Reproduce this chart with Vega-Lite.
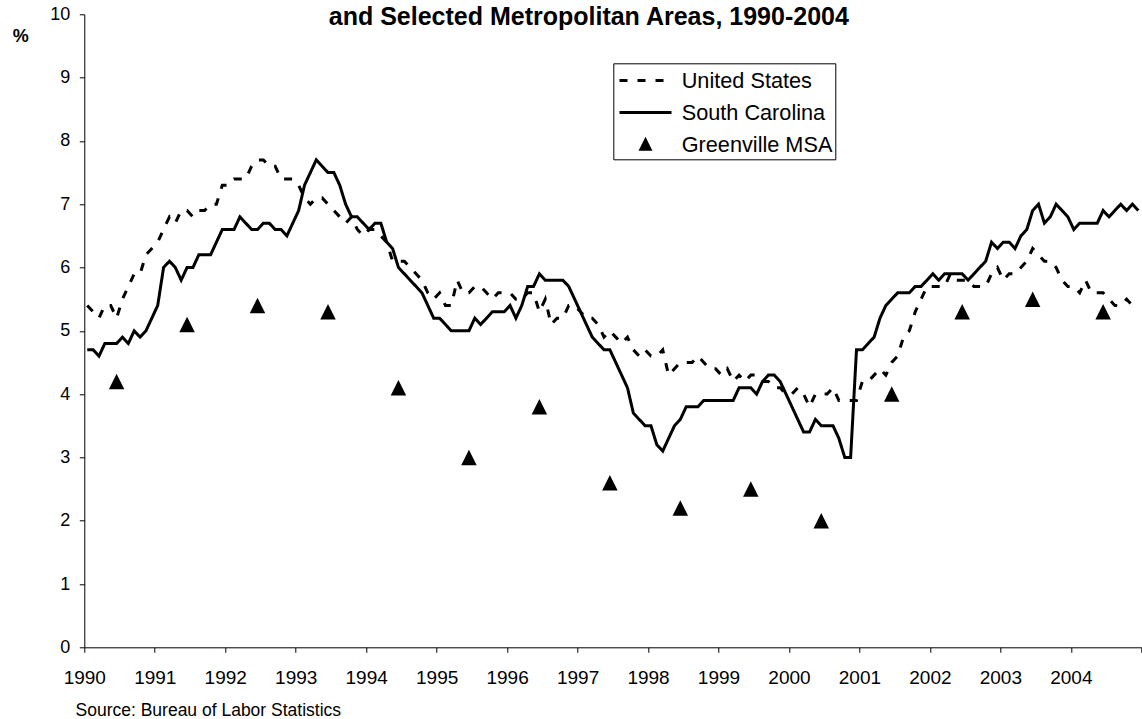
{
"$schema":"https://vega.github.io/schema/vega-lite/v6.json",
"width":1057,"height":633,
"autosize":{"type":"none"},
"padding":{"left":84.3,"top":14.3,"right":0.7,"bottom":71.7},
"background":"white",
"title":{"text":"and Selected Metropolitan Areas, 1990-2004","font":"Liberation Sans","fontSize":25,"fontWeight":"bold","color":"black","anchor":"middle","dx":-24,"baseline":"alphabetic","offset":-45},
"config":{"view":{"stroke":null},"font":"Liberation Sans"},
"data":{"values":[
{"s":"United States","x":1990.0417,"y":5.4},{"s":"United States","x":1990.125,"y":5.3},{"s":"United States","x":1990.2083,"y":5.2},{"s":"United States","x":1990.2917,"y":5.4},{"s":"United States","x":1990.375,"y":5.4},{"s":"United States","x":1990.4583,"y":5.2},{"s":"United States","x":1990.5417,"y":5.5},{"s":"United States","x":1990.625,"y":5.7},{"s":"United States","x":1990.7083,"y":5.9},{"s":"United States","x":1990.7917,"y":5.9},{"s":"United States","x":1990.875,"y":6.2},{"s":"United States","x":1990.9583,"y":6.3},
{"s":"United States","x":1991.0417,"y":6.4},{"s":"United States","x":1991.125,"y":6.6},{"s":"United States","x":1991.2083,"y":6.8},{"s":"United States","x":1991.2917,"y":6.7},{"s":"United States","x":1991.375,"y":6.9},{"s":"United States","x":1991.4583,"y":6.9},{"s":"United States","x":1991.5417,"y":6.8},{"s":"United States","x":1991.625,"y":6.9},{"s":"United States","x":1991.7083,"y":6.9},{"s":"United States","x":1991.7917,"y":7.0},{"s":"United States","x":1991.875,"y":7.0},{"s":"United States","x":1991.9583,"y":7.3},
{"s":"United States","x":1992.0417,"y":7.3},{"s":"United States","x":1992.125,"y":7.4},{"s":"United States","x":1992.2083,"y":7.4},{"s":"United States","x":1992.2917,"y":7.4},{"s":"United States","x":1992.375,"y":7.6},{"s":"United States","x":1992.4583,"y":7.7},{"s":"United States","x":1992.5417,"y":7.7},{"s":"United States","x":1992.625,"y":7.6},{"s":"United States","x":1992.7083,"y":7.6},{"s":"United States","x":1992.7917,"y":7.4},{"s":"United States","x":1992.875,"y":7.4},{"s":"United States","x":1992.9583,"y":7.4},
{"s":"United States","x":1993.0417,"y":7.3},{"s":"United States","x":1993.125,"y":7.1},{"s":"United States","x":1993.2083,"y":7.0},{"s":"United States","x":1993.2917,"y":7.1},{"s":"United States","x":1993.375,"y":7.1},{"s":"United States","x":1993.4583,"y":7.0},{"s":"United States","x":1993.5417,"y":6.9},{"s":"United States","x":1993.625,"y":6.8},{"s":"United States","x":1993.7083,"y":6.7},{"s":"United States","x":1993.7917,"y":6.8},{"s":"United States","x":1993.875,"y":6.6},{"s":"United States","x":1993.9583,"y":6.5},
{"s":"United States","x":1994.0417,"y":6.6},{"s":"United States","x":1994.125,"y":6.6},{"s":"United States","x":1994.2083,"y":6.5},{"s":"United States","x":1994.2917,"y":6.4},{"s":"United States","x":1994.375,"y":6.1},{"s":"United States","x":1994.4583,"y":6.1},{"s":"United States","x":1994.5417,"y":6.1},{"s":"United States","x":1994.625,"y":6.0},{"s":"United States","x":1994.7083,"y":5.9},{"s":"United States","x":1994.7917,"y":5.8},{"s":"United States","x":1994.875,"y":5.6},{"s":"United States","x":1994.9583,"y":5.5},
{"s":"United States","x":1995.0417,"y":5.6},{"s":"United States","x":1995.125,"y":5.4},{"s":"United States","x":1995.2083,"y":5.4},{"s":"United States","x":1995.2917,"y":5.8},{"s":"United States","x":1995.375,"y":5.6},{"s":"United States","x":1995.4583,"y":5.6},{"s":"United States","x":1995.5417,"y":5.7},{"s":"United States","x":1995.625,"y":5.7},{"s":"United States","x":1995.7083,"y":5.6},{"s":"United States","x":1995.7917,"y":5.5},{"s":"United States","x":1995.875,"y":5.6},{"s":"United States","x":1995.9583,"y":5.6},
{"s":"United States","x":1996.0417,"y":5.6},{"s":"United States","x":1996.125,"y":5.5},{"s":"United States","x":1996.2083,"y":5.5},{"s":"United States","x":1996.2917,"y":5.6},{"s":"United States","x":1996.375,"y":5.6},{"s":"United States","x":1996.4583,"y":5.3},{"s":"United States","x":1996.5417,"y":5.5},{"s":"United States","x":1996.625,"y":5.1},{"s":"United States","x":1996.7083,"y":5.2},{"s":"United States","x":1996.7917,"y":5.2},{"s":"United States","x":1996.875,"y":5.4},{"s":"United States","x":1996.9583,"y":5.4},
{"s":"United States","x":1997.0417,"y":5.3},{"s":"United States","x":1997.125,"y":5.2},{"s":"United States","x":1997.2083,"y":5.2},{"s":"United States","x":1997.2917,"y":5.1},{"s":"United States","x":1997.375,"y":4.9},{"s":"United States","x":1997.4583,"y":5.0},{"s":"United States","x":1997.5417,"y":4.9},{"s":"United States","x":1997.625,"y":4.8},{"s":"United States","x":1997.7083,"y":4.9},{"s":"United States","x":1997.7917,"y":4.7},{"s":"United States","x":1997.875,"y":4.6},{"s":"United States","x":1997.9583,"y":4.7},
{"s":"United States","x":1998.0417,"y":4.6},{"s":"United States","x":1998.125,"y":4.6},{"s":"United States","x":1998.2083,"y":4.7},{"s":"United States","x":1998.2917,"y":4.3},{"s":"United States","x":1998.375,"y":4.4},{"s":"United States","x":1998.4583,"y":4.5},{"s":"United States","x":1998.5417,"y":4.5},{"s":"United States","x":1998.625,"y":4.5},{"s":"United States","x":1998.7083,"y":4.6},{"s":"United States","x":1998.7917,"y":4.5},{"s":"United States","x":1998.875,"y":4.4},{"s":"United States","x":1998.9583,"y":4.4},
{"s":"United States","x":1999.0417,"y":4.3},{"s":"United States","x":1999.125,"y":4.4},{"s":"United States","x":1999.2083,"y":4.2},{"s":"United States","x":1999.2917,"y":4.3},{"s":"United States","x":1999.375,"y":4.2},{"s":"United States","x":1999.4583,"y":4.3},{"s":"United States","x":1999.5417,"y":4.3},{"s":"United States","x":1999.625,"y":4.2},{"s":"United States","x":1999.7083,"y":4.2},{"s":"United States","x":1999.7917,"y":4.1},{"s":"United States","x":1999.875,"y":4.1},{"s":"United States","x":1999.9583,"y":4.0},
{"s":"United States","x":2000.0417,"y":4.0},{"s":"United States","x":2000.125,"y":4.1},{"s":"United States","x":2000.2083,"y":4.0},{"s":"United States","x":2000.2917,"y":3.8},{"s":"United States","x":2000.375,"y":4.0},{"s":"United States","x":2000.4583,"y":4.0},{"s":"United States","x":2000.5417,"y":4.0},{"s":"United States","x":2000.625,"y":4.1},{"s":"United States","x":2000.7083,"y":3.9},{"s":"United States","x":2000.7917,"y":3.9},{"s":"United States","x":2000.875,"y":3.9},{"s":"United States","x":2000.9583,"y":3.9},
{"s":"United States","x":2001.0417,"y":4.2},{"s":"United States","x":2001.125,"y":4.2},{"s":"United States","x":2001.2083,"y":4.3},{"s":"United States","x":2001.2917,"y":4.4},{"s":"United States","x":2001.375,"y":4.3},{"s":"United States","x":2001.4583,"y":4.5},{"s":"United States","x":2001.5417,"y":4.6},{"s":"United States","x":2001.625,"y":4.9},{"s":"United States","x":2001.7083,"y":5.0},{"s":"United States","x":2001.7917,"y":5.3},{"s":"United States","x":2001.875,"y":5.5},{"s":"United States","x":2001.9583,"y":5.7},
{"s":"United States","x":2002.0417,"y":5.7},{"s":"United States","x":2002.125,"y":5.7},{"s":"United States","x":2002.2083,"y":5.7},{"s":"United States","x":2002.2917,"y":5.9},{"s":"United States","x":2002.375,"y":5.8},{"s":"United States","x":2002.4583,"y":5.8},{"s":"United States","x":2002.5417,"y":5.8},{"s":"United States","x":2002.625,"y":5.7},{"s":"United States","x":2002.7083,"y":5.7},{"s":"United States","x":2002.7917,"y":5.7},{"s":"United States","x":2002.875,"y":5.9},{"s":"United States","x":2002.9583,"y":6.0},
{"s":"United States","x":2003.0417,"y":5.8},{"s":"United States","x":2003.125,"y":5.9},{"s":"United States","x":2003.2083,"y":5.9},{"s":"United States","x":2003.2917,"y":6.0},{"s":"United States","x":2003.375,"y":6.1},{"s":"United States","x":2003.4583,"y":6.3},{"s":"United States","x":2003.5417,"y":6.2},{"s":"United States","x":2003.625,"y":6.1},{"s":"United States","x":2003.7083,"y":6.1},{"s":"United States","x":2003.7917,"y":6.0},{"s":"United States","x":2003.875,"y":5.8},{"s":"United States","x":2003.9583,"y":5.7},
{"s":"United States","x":2004.0417,"y":5.7},{"s":"United States","x":2004.125,"y":5.6},{"s":"United States","x":2004.2083,"y":5.8},{"s":"United States","x":2004.2917,"y":5.6},{"s":"United States","x":2004.375,"y":5.6},{"s":"United States","x":2004.4583,"y":5.6},{"s":"United States","x":2004.5417,"y":5.5},{"s":"United States","x":2004.625,"y":5.4},{"s":"United States","x":2004.7083,"y":5.4},{"s":"United States","x":2004.7917,"y":5.5},{"s":"United States","x":2004.875,"y":5.4},{"s":"United States","x":2004.9583,"y":5.4},
{"s":"South Carolina","x":1990.0417,"y":4.7},{"s":"South Carolina","x":1990.125,"y":4.7},{"s":"South Carolina","x":1990.2083,"y":4.6},{"s":"South Carolina","x":1990.2917,"y":4.8},{"s":"South Carolina","x":1990.375,"y":4.8},{"s":"South Carolina","x":1990.4583,"y":4.8},{"s":"South Carolina","x":1990.5417,"y":4.9},{"s":"South Carolina","x":1990.625,"y":4.8},{"s":"South Carolina","x":1990.7083,"y":5.0},{"s":"South Carolina","x":1990.7917,"y":4.9},{"s":"South Carolina","x":1990.875,"y":5.0},{"s":"South Carolina","x":1990.9583,"y":5.2},
{"s":"South Carolina","x":1991.0417,"y":5.4},{"s":"South Carolina","x":1991.125,"y":6.0},{"s":"South Carolina","x":1991.2083,"y":6.1},{"s":"South Carolina","x":1991.2917,"y":6.0},{"s":"South Carolina","x":1991.375,"y":5.8},{"s":"South Carolina","x":1991.4583,"y":6.0},{"s":"South Carolina","x":1991.5417,"y":6.0},{"s":"South Carolina","x":1991.625,"y":6.2},{"s":"South Carolina","x":1991.7083,"y":6.2},{"s":"South Carolina","x":1991.7917,"y":6.2},{"s":"South Carolina","x":1991.875,"y":6.4},{"s":"South Carolina","x":1991.9583,"y":6.6},
{"s":"South Carolina","x":1992.0417,"y":6.6},{"s":"South Carolina","x":1992.125,"y":6.6},{"s":"South Carolina","x":1992.2083,"y":6.8},{"s":"South Carolina","x":1992.2917,"y":6.7},{"s":"South Carolina","x":1992.375,"y":6.6},{"s":"South Carolina","x":1992.4583,"y":6.6},{"s":"South Carolina","x":1992.5417,"y":6.7},{"s":"South Carolina","x":1992.625,"y":6.7},{"s":"South Carolina","x":1992.7083,"y":6.6},{"s":"South Carolina","x":1992.7917,"y":6.6},{"s":"South Carolina","x":1992.875,"y":6.5},{"s":"South Carolina","x":1992.9583,"y":6.7},
{"s":"South Carolina","x":1993.0417,"y":6.9},{"s":"South Carolina","x":1993.125,"y":7.3},{"s":"South Carolina","x":1993.2083,"y":7.5},{"s":"South Carolina","x":1993.2917,"y":7.7},{"s":"South Carolina","x":1993.375,"y":7.6},{"s":"South Carolina","x":1993.4583,"y":7.5},{"s":"South Carolina","x":1993.5417,"y":7.5},{"s":"South Carolina","x":1993.625,"y":7.3},{"s":"South Carolina","x":1993.7083,"y":7.0},{"s":"South Carolina","x":1993.7917,"y":6.8},{"s":"South Carolina","x":1993.875,"y":6.8},{"s":"South Carolina","x":1993.9583,"y":6.7},
{"s":"South Carolina","x":1994.0417,"y":6.6},{"s":"South Carolina","x":1994.125,"y":6.7},{"s":"South Carolina","x":1994.2083,"y":6.7},{"s":"South Carolina","x":1994.2917,"y":6.4},{"s":"South Carolina","x":1994.375,"y":6.3},{"s":"South Carolina","x":1994.4583,"y":6.0},{"s":"South Carolina","x":1994.5417,"y":5.9},{"s":"South Carolina","x":1994.625,"y":5.8},{"s":"South Carolina","x":1994.7083,"y":5.7},{"s":"South Carolina","x":1994.7917,"y":5.6},{"s":"South Carolina","x":1994.875,"y":5.4},{"s":"South Carolina","x":1994.9583,"y":5.2},
{"s":"South Carolina","x":1995.0417,"y":5.2},{"s":"South Carolina","x":1995.125,"y":5.1},{"s":"South Carolina","x":1995.2083,"y":5.0},{"s":"South Carolina","x":1995.2917,"y":5.0},{"s":"South Carolina","x":1995.375,"y":5.0},{"s":"South Carolina","x":1995.4583,"y":5.0},{"s":"South Carolina","x":1995.5417,"y":5.2},{"s":"South Carolina","x":1995.625,"y":5.1},{"s":"South Carolina","x":1995.7083,"y":5.2},{"s":"South Carolina","x":1995.7917,"y":5.3},{"s":"South Carolina","x":1995.875,"y":5.3},{"s":"South Carolina","x":1995.9583,"y":5.3},
{"s":"South Carolina","x":1996.0417,"y":5.4},{"s":"South Carolina","x":1996.125,"y":5.2},{"s":"South Carolina","x":1996.2083,"y":5.4},{"s":"South Carolina","x":1996.2917,"y":5.7},{"s":"South Carolina","x":1996.375,"y":5.7},{"s":"South Carolina","x":1996.4583,"y":5.9},{"s":"South Carolina","x":1996.5417,"y":5.8},{"s":"South Carolina","x":1996.625,"y":5.8},{"s":"South Carolina","x":1996.7083,"y":5.8},{"s":"South Carolina","x":1996.7917,"y":5.8},{"s":"South Carolina","x":1996.875,"y":5.7},{"s":"South Carolina","x":1996.9583,"y":5.5},
{"s":"South Carolina","x":1997.0417,"y":5.3},{"s":"South Carolina","x":1997.125,"y":5.1},{"s":"South Carolina","x":1997.2083,"y":4.9},{"s":"South Carolina","x":1997.2917,"y":4.8},{"s":"South Carolina","x":1997.375,"y":4.7},{"s":"South Carolina","x":1997.4583,"y":4.7},{"s":"South Carolina","x":1997.5417,"y":4.5},{"s":"South Carolina","x":1997.625,"y":4.3},{"s":"South Carolina","x":1997.7083,"y":4.1},{"s":"South Carolina","x":1997.7917,"y":3.7},{"s":"South Carolina","x":1997.875,"y":3.6},{"s":"South Carolina","x":1997.9583,"y":3.5},
{"s":"South Carolina","x":1998.0417,"y":3.5},{"s":"South Carolina","x":1998.125,"y":3.2},{"s":"South Carolina","x":1998.2083,"y":3.1},{"s":"South Carolina","x":1998.2917,"y":3.3},{"s":"South Carolina","x":1998.375,"y":3.5},{"s":"South Carolina","x":1998.4583,"y":3.6},{"s":"South Carolina","x":1998.5417,"y":3.8},{"s":"South Carolina","x":1998.625,"y":3.8},{"s":"South Carolina","x":1998.7083,"y":3.8},{"s":"South Carolina","x":1998.7917,"y":3.9},{"s":"South Carolina","x":1998.875,"y":3.9},{"s":"South Carolina","x":1998.9583,"y":3.9},
{"s":"South Carolina","x":1999.0417,"y":3.9},{"s":"South Carolina","x":1999.125,"y":3.9},{"s":"South Carolina","x":1999.2083,"y":3.9},{"s":"South Carolina","x":1999.2917,"y":4.1},{"s":"South Carolina","x":1999.375,"y":4.1},{"s":"South Carolina","x":1999.4583,"y":4.1},{"s":"South Carolina","x":1999.5417,"y":4.0},{"s":"South Carolina","x":1999.625,"y":4.2},{"s":"South Carolina","x":1999.7083,"y":4.3},{"s":"South Carolina","x":1999.7917,"y":4.3},{"s":"South Carolina","x":1999.875,"y":4.2},{"s":"South Carolina","x":1999.9583,"y":4.0},
{"s":"South Carolina","x":2000.0417,"y":3.8},{"s":"South Carolina","x":2000.125,"y":3.6},{"s":"South Carolina","x":2000.2083,"y":3.4},{"s":"South Carolina","x":2000.2917,"y":3.4},{"s":"South Carolina","x":2000.375,"y":3.6},{"s":"South Carolina","x":2000.4583,"y":3.5},{"s":"South Carolina","x":2000.5417,"y":3.5},{"s":"South Carolina","x":2000.625,"y":3.5},{"s":"South Carolina","x":2000.7083,"y":3.3},{"s":"South Carolina","x":2000.7917,"y":3.0},{"s":"South Carolina","x":2000.875,"y":3.0},{"s":"South Carolina","x":2000.9583,"y":4.7},
{"s":"South Carolina","x":2001.0417,"y":4.7},{"s":"South Carolina","x":2001.125,"y":4.8},{"s":"South Carolina","x":2001.2083,"y":4.9},{"s":"South Carolina","x":2001.2917,"y":5.2},{"s":"South Carolina","x":2001.375,"y":5.4},{"s":"South Carolina","x":2001.4583,"y":5.5},{"s":"South Carolina","x":2001.5417,"y":5.6},{"s":"South Carolina","x":2001.625,"y":5.6},{"s":"South Carolina","x":2001.7083,"y":5.6},{"s":"South Carolina","x":2001.7917,"y":5.7},{"s":"South Carolina","x":2001.875,"y":5.7},{"s":"South Carolina","x":2001.9583,"y":5.8},
{"s":"South Carolina","x":2002.0417,"y":5.9},{"s":"South Carolina","x":2002.125,"y":5.8},{"s":"South Carolina","x":2002.2083,"y":5.9},{"s":"South Carolina","x":2002.2917,"y":5.9},{"s":"South Carolina","x":2002.375,"y":5.9},{"s":"South Carolina","x":2002.4583,"y":5.9},{"s":"South Carolina","x":2002.5417,"y":5.8},{"s":"South Carolina","x":2002.625,"y":5.9},{"s":"South Carolina","x":2002.7083,"y":6.0},{"s":"South Carolina","x":2002.7917,"y":6.1},{"s":"South Carolina","x":2002.875,"y":6.4},{"s":"South Carolina","x":2002.9583,"y":6.3},
{"s":"South Carolina","x":2003.0417,"y":6.4},{"s":"South Carolina","x":2003.125,"y":6.4},{"s":"South Carolina","x":2003.2083,"y":6.3},{"s":"South Carolina","x":2003.2917,"y":6.5},{"s":"South Carolina","x":2003.375,"y":6.6},{"s":"South Carolina","x":2003.4583,"y":6.9},{"s":"South Carolina","x":2003.5417,"y":7.0},{"s":"South Carolina","x":2003.625,"y":6.7},{"s":"South Carolina","x":2003.7083,"y":6.8},{"s":"South Carolina","x":2003.7917,"y":7.0},{"s":"South Carolina","x":2003.875,"y":6.9},{"s":"South Carolina","x":2003.9583,"y":6.8},
{"s":"South Carolina","x":2004.0417,"y":6.6},{"s":"South Carolina","x":2004.125,"y":6.7},{"s":"South Carolina","x":2004.2083,"y":6.7},{"s":"South Carolina","x":2004.2917,"y":6.7},{"s":"South Carolina","x":2004.375,"y":6.7},{"s":"South Carolina","x":2004.4583,"y":6.9},{"s":"South Carolina","x":2004.5417,"y":6.8},{"s":"South Carolina","x":2004.625,"y":6.9},{"s":"South Carolina","x":2004.7083,"y":7.0},{"s":"South Carolina","x":2004.7917,"y":6.9},{"s":"South Carolina","x":2004.875,"y":7.0},{"s":"South Carolina","x":2004.9583,"y":6.9},
{"s":"Greenville MSA","x":1990.4583,"y":4.2},{"s":"Greenville MSA","x":1991.4583,"y":5.1},{"s":"Greenville MSA","x":1992.4583,"y":5.4},{"s":"Greenville MSA","x":1993.4583,"y":5.3},{"s":"Greenville MSA","x":1994.4583,"y":4.1},{"s":"Greenville MSA","x":1995.4583,"y":3.0},{"s":"Greenville MSA","x":1996.4583,"y":3.8},{"s":"Greenville MSA","x":1997.4583,"y":2.6},{"s":"Greenville MSA","x":1998.4583,"y":2.2},{"s":"Greenville MSA","x":1999.4583,"y":2.5},{"s":"Greenville MSA","x":2000.4583,"y":2.0},{"s":"Greenville MSA","x":2001.4583,"y":4.0},{"s":"Greenville MSA","x":2002.4583,"y":5.3},{"s":"Greenville MSA","x":2003.4583,"y":5.5},{"s":"Greenville MSA","x":2004.4583,"y":5.3}
]},
"encoding":{
 "x":{"field":"x","type":"quantitative","scale":{"domain":[1990,2005],"nice":false,"zero":false},
  "axis":{"values":[1990,1991,1992,1993,1994,1995,1996,1997,1998,1999,2000,2001,2002,2003,2004,2005],"format":"d","labelExpr":"datum.value == 2005 ? '' : datum.label","grid":false,"labelFontSize":19,"labelFont":"Liberation Sans","labelColor":"black","labelPadding":16.5,"labelFlush":false,"labelOverlap":false,"tickSize":5,"tickColor":"black","domainColor":"black","title":"Source: Bureau of Labor Statistics","titleX":-9.3,"titleY":67.7,"titleAlign":"left","titleAngle":0,"titleBaseline":"alphabetic","titleFontWeight":"normal","titleFontSize":17.5,"titleFont":"Liberation Sans","titleColor":"black"}},
 "y":{"field":"y","type":"quantitative","scale":{"domain":[0,10],"nice":false,"zero":false},
  "axis":{"values":[0,1,2,3,4,5,6,7,8,9,10],"grid":false,"labelFontSize":18,"labelFont":"Liberation Sans","labelColor":"black","labelPadding":9.5,"tickSize":5,"tickColor":"black","domainColor":"black","title":"%","titleAngle":0,"titleX":-64,"titleY":22,"titleAlign":"center","titleBaseline":"middle","titleFontWeight":"bold","titleFontSize":18,"titleFont":"Liberation Sans","titleColor":"black"}}
},
"layer":[
 {"transform":[{"filter":"datum.s != 'Greenville MSA'"}],
  "mark":{"type":"line","strokeWidth":3,"color":"black"},
  "encoding":{
   "strokeDash":{"field":"s","type":"nominal","scale":{"domain":["United States","South Carolina","Greenville MSA"],"range":[[8,10],[1,0],[1,0]]},
    "legend":{"orient":"none","legendX":529,"legendY":49,"title":null,"padding":2.7,"rowPadding":5.1,"symbolOffset":15,"labelOffset":21.7,"labelFontSize":21.7,"labelFont":"Liberation Sans","labelColor":"black","labelLimit":400,"strokeColor":"black","fillColor":"white","symbolSize":676,"symbolStrokeWidth":3,"symbolStrokeColor":"black","symbolFillColor":"black","encode":{"symbols":{"update":{"fill":{"value":"black"},"stroke":{"value":"black"},"strokeWidth":{"value":3},"size":{"value":676},"opacity":{"value":1}}}}}}
  }},
 {"transform":[{"filter":"datum.s == 'Greenville MSA'"}],
  "mark":{"type":"point","filled":true,"color":"black","size":1960,"opacity":1,"strokeWidth":0},
  "encoding":{
   "shape":{"field":"s","type":"nominal","scale":{"domain":["United States","South Carolina","Greenville MSA"],"range":["M-2,0H2","M-2,0H2","M0,-0.35L0.35,0.35L-0.35,0.35Z"]},
    "legend":{"orient":"none","legendX":529,"legendY":49,"title":null,"padding":2.7,"rowPadding":5.1,"symbolOffset":15,"labelOffset":21.7,"labelFontSize":21.7,"labelFont":"Liberation Sans","labelColor":"black","labelLimit":400,"strokeColor":"black","fillColor":"white","symbolSize":676,"symbolStrokeWidth":3,"symbolStrokeColor":"black","symbolFillColor":"black","encode":{"symbols":{"update":{"fill":{"value":"black"},"stroke":{"value":"black"},"strokeWidth":{"value":3},"size":{"value":676},"opacity":{"value":1}}}}}}
  }}
]
}
